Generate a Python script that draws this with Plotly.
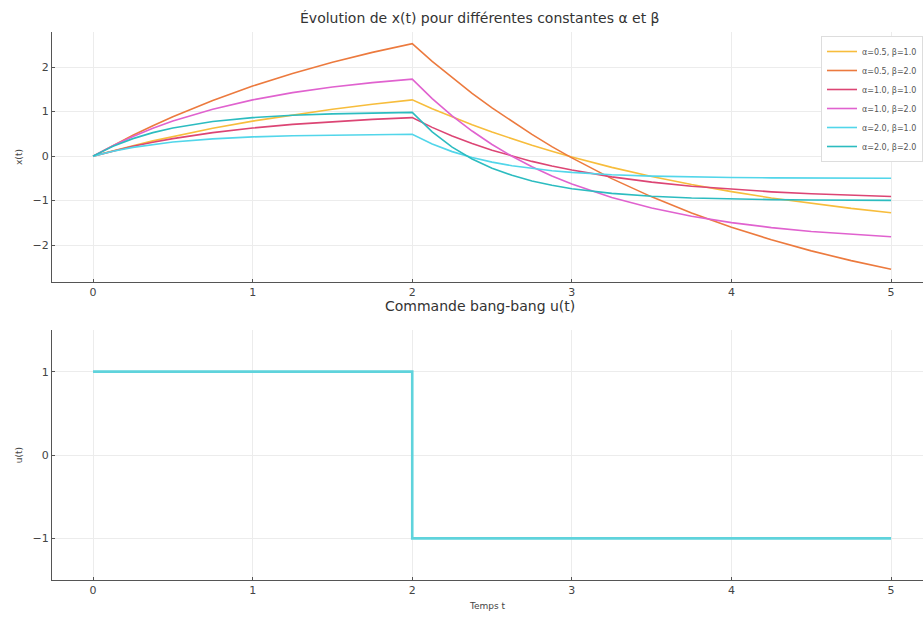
import plotly.graph_objects as go

t = [0, 0.125, 0.25, 0.375, 0.5, 0.75, 1, 1.25, 1.5, 1.75, 2, 2.125, 2.25, 2.375, 2.5, 2.625, 2.75, 2.875,
     3, 3.25, 3.5, 3.75, 4, 4.25, 4.5, 4.75, 5]

labels = ["α=0.5, β=1.0", "α=0.5, β=2.0", "α=1.0, β=1.0", "α=1.0, β=2.0", "α=2.0, β=1.0", "α=2.0, β=2.0"]

x_a05_b1 = [0, 0.121, 0.235, 0.342, 0.442, 0.625, 0.787, 0.929, 1.055, 1.166, 1.264,
            1.066, 0.880, 0.706, 0.542, 0.388, 0.243, 0.107,
            -0.020, -0.253, -0.458, -0.639, -0.799, -0.940, -1.065, -1.175, -1.272]
x_a05_b2 = [0, 0.242, 0.470, 0.684, 0.885, 1.251, 1.574, 1.859, 2.110, 2.332, 2.528,
            2.132, 1.761, 1.412, 1.084, 0.776, 0.487, 0.214,
            -0.039, -0.506, -0.916, -1.278, -1.598, -1.880, -2.130, -2.350, -2.544]
x_a1_b1 = [0, 0.118, 0.221, 0.313, 0.393, 0.528, 0.632, 0.713, 0.777, 0.826, 0.865,
           0.646, 0.452, 0.282, 0.131, -0.002, -0.119, -0.222,
           -0.314, -0.466, -0.584, -0.676, -0.748, -0.803, -0.847, -0.881, -0.907]
x_a1_b2 = [0, 0.235, 0.442, 0.625, 0.787, 1.055, 1.264, 1.427, 1.554, 1.652, 1.729,
           1.292, 0.905, 0.564, 0.262, -0.004, -0.238, -0.445,
           -0.628, -0.931, -1.168, -1.352, -1.495, -1.607, -1.694, -1.762, -1.814]
x_a2_b1 = [0, 0.111, 0.197, 0.264, 0.316, 0.388, 0.432, 0.459, 0.475, 0.485, 0.491,
           0.272, 0.101, -0.032, -0.135, -0.216, -0.279, -0.328,
           -0.366, -0.419, -0.451, -0.470, -0.482, -0.489, -0.493, -0.496, -0.498]
x_a2_b2 = [0, 0.221, 0.393, 0.528, 0.632, 0.777, 0.865, 0.918, 0.950, 0.970, 0.982,
           0.544, 0.202, -0.064, -0.271, -0.432, -0.558, -0.656,
           -0.732, -0.837, -0.901, -0.940, -0.964, -0.978, -0.987, -0.992, -0.995]

series = [x_a05_b1, x_a05_b2, x_a1_b1, x_a1_b2, x_a2_b1, x_a2_b2]
colors = ["#f7bd3c", "#ec7a3e", "#dc4574", "#e062cf", "#52d6ea", "#2cbcc0"]

t_u = [0, 2, 5]
u = [1, -1, -1]

title_top = "Évolution de x(t) pour différentes constantes α et β"
title_bottom = "Commande bang-bang u(t)"

fig = go.Figure()

for lab, ys, c in zip(labels, series, colors):
    fig.add_trace(go.Scatter(x=t, y=ys, mode="lines", name=lab, xaxis="x", yaxis="y",
                             line=dict(color=c, width=1.6)))

fig.add_trace(go.Scatter(x=t_u, y=u, mode="lines", line_shape="hv", showlegend=False,
                         xaxis="x2", yaxis="y2",
                         line=dict(color="#5fd3dc", width=2.6)))

H = 617.0
axis_common = dict(showgrid=True, gridcolor="#ececec", gridwidth=1,
                   showline=True, linecolor="#555555", linewidth=1.2,
                   ticks="inside", ticklen=3, tickcolor="#555555",
                   tickfont=dict(size=11, color="#444444"), zeroline=False, mirror=False)

fig.update_layout(
    width=923, height=617,
    margin=dict(l=0, r=0, t=0, b=0),
    paper_bgcolor="white", plot_bgcolor="white",
    font=dict(family="DejaVu Sans", color="#444444"),
    xaxis=dict(**axis_common, domain=[52 / 923, 1.0], anchor="y",
               range=[-0.257, 5.2], tickvals=[0, 1, 2, 3, 4, 5]),
    yaxis=dict(**axis_common, domain=[1 - 282 / H, 1 - 32 / H], anchor="x",
               range=[-2.83, 2.79], tickvals=[-2, -1, 0, 1, 2],
               ticktext=["\u22122", "\u22121", "0", "1", "2"],
               title=dict(text="x(t)", font=dict(size=9, color="#444444"), standoff=8)),
    xaxis2=dict(**axis_common, domain=[52 / 923, 1.0], anchor="y2",
                range=[-0.257, 5.2], tickvals=[0, 1, 2, 3, 4, 5],
                title=dict(text="Temps t", font=dict(size=9, color="#444444"), standoff=6)),
    yaxis2=dict(**axis_common, domain=[1 - 580 / H, 1 - 330 / H], anchor="x2",
                range=[-1.5, 1.5], tickvals=[-1, 0, 1],
                ticktext=["\u22121", "0", "1"],
                title=dict(text="u(t)", font=dict(size=9, color="#444444"), standoff=8)),
    legend=dict(x=1.0, y=1 - 36 / H, xanchor="right", yanchor="top",
                xref="paper", yref="paper",
                bgcolor="white", bordercolor="#dddddd", borderwidth=1,
                font=dict(size=8, color="#555555"), tracegroupgap=0),
    annotations=[
        dict(text=title_top, x=0.52, y=1 - 18 / H, xref="paper", yref="paper",
             xanchor="center", yanchor="middle", showarrow=False,
             font=dict(size=14, color="#333333")),
        dict(text=title_bottom, x=0.52, y=1 - 306 / H, xref="paper", yref="paper",
             xanchor="center", yanchor="middle", showarrow=False,
             font=dict(size=14, color="#333333")),
    ],
)

fig.write_html("out.html")
